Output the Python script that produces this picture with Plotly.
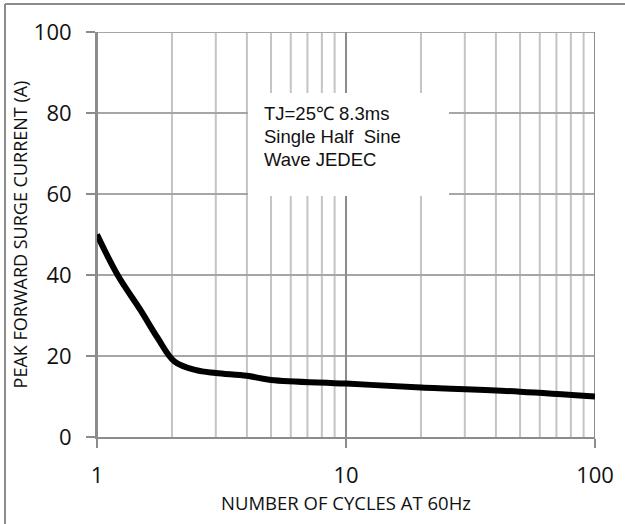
import plotly.graph_objects as go

# Data
cycles = [1, 1.21, 1.5, 1.75, 2.05, 2.5, 3, 4, 5, 10, 20, 50, 100]
current = [50, 40, 31.2, 24.5, 18.6, 16.5, 15.8, 15.1, 14.1, 13.2, 12.2, 11.2, 10.0]

x_tick_vals = [1, 10, 100]
x_tick_text = ["1", "10", "100"]
x_minor_vals = [2, 3, 4, 5, 6, 7, 8, 9, 20, 30, 40, 50, 60, 70, 80, 90]
y_tick_vals = [0, 20, 40, 60, 80, 100]
x_range = [1, 100]
y_range = [0, 100]

note_lines = ["TJ=25\u2103 8.3ms", "Single Half  Sine", "Wave JEDEC"]

W, H = 625, 524
L, R, T, B = 97, 30, 32, 87
PW, PH = W - L - R, H - T - B


def px(xp):
    return (xp - L) / PW


def py(yp):
    return (H - B - yp) / PH


def dx(xp):
    # pixel -> data value on the log x axis
    return 10 ** (px(xp) * 2)


def dy(yp):
    return py(yp) * (y_range[1] - y_range[0]) + y_range[0]


fig = go.Figure()
# grid lines, one trace per line, under the curve
for v in x_minor_vals:
    fig.add_trace(go.Scatter(x=[v, v], y=y_range, mode="lines",
                             line=dict(color="#c4c4c4", width=2), showlegend=False, hoverinfo="skip"))
for v in y_tick_vals[1:]:
    fig.add_trace(go.Scatter(x=x_range, y=[v, v], mode="lines",
                             line=dict(color="#a6a6a6", width=2), showlegend=False, hoverinfo="skip"))
for v in x_tick_vals:
    fig.add_trace(go.Scatter(x=[v, v], y=y_range, mode="lines",
                             line=dict(color="#8c8c8c", width=2), showlegend=False, hoverinfo="skip"))

# white box behind the note
bx0, bx1, by0, by1 = dx(248), dx(449), dy(196), dy(93)
fig.add_trace(go.Scatter(x=[bx0, bx1, bx1, bx0, bx0], y=[by0, by0, by1, by1, by0],
                         mode="lines", fill="toself", fillcolor="white",
                         line=dict(width=0, color="white"), showlegend=False, hoverinfo="skip"))

fig.add_trace(go.Scatter(
    x=cycles, y=current, mode="lines",
    line=dict(color="black", width=6, shape="spline", smoothing=1.0),
    showlegend=False, hoverinfo="skip",
))

# note text
fig.add_trace(go.Scatter(
    x=[dx(264)] * len(note_lines), y=[dy(115 + 23 * i) for i in range(len(note_lines))],
    mode="text", text=note_lines, textposition="middle right",
    textfont=dict(family="Liberation Sans, Arial, sans-serif", size=18.5, color="#111"),
    showlegend=False, hoverinfo="skip",
))

tick_font = dict(family="Open Sans, Lato, sans-serif", size=22, color="#111")

fig.update_xaxes(
    type="log", range=[0, 2], automargin=False,
    tickvals=x_tick_vals, ticktext=x_tick_text,
    showgrid=False,
    ticks="outside", ticklen=9, tickwidth=2, tickcolor="#8c8c8c",
    ticklabelstandoff=9,
    showline=True, linecolor="#8c8c8c", linewidth=2,
    tickfont=tick_font,
    title=dict(text="NUMBER OF CYCLES AT 60Hz",
               font=dict(family="Open Sans, Lato, sans-serif", size=18.5, color="#111"), standoff=9),
    zeroline=False,
)
fig.update_yaxes(
    range=y_range, tickvals=y_tick_vals, automargin=False,
    showgrid=False,
    ticks="outside", ticklen=9, tickwidth=2, tickcolor="#8c8c8c",
    ticklabelstandoff=10,
    showline=True, linecolor="#8c8c8c", linewidth=2,
    tickfont=tick_font,
    title=dict(text="PEAK FORWARD SURGE CURRENT (A)",
               font=dict(family="Open Sans, Lato, sans-serif", size=18, color="#111"), standoff=2),
    zeroline=False,
)

# outer border of the image (left and top edges)
fig.add_shape(type="line", xref="paper", yref="paper",
              x0=px(5), x1=px(5), y0=py(600), y1=py(4),
              line=dict(color="#8c8c8c", width=2), layer="above")
fig.add_shape(type="line", xref="paper", yref="paper",
              x0=px(5), x1=px(700), y0=py(4), y1=py(4),
              line=dict(color="#8c8c8c", width=2), layer="above")

fig.update_layout(
    width=W, height=H,
    margin=dict(l=L, r=R, t=T, b=B),
    plot_bgcolor="white", paper_bgcolor="white",
    showlegend=False,
)

fig.write_html("out.html")
